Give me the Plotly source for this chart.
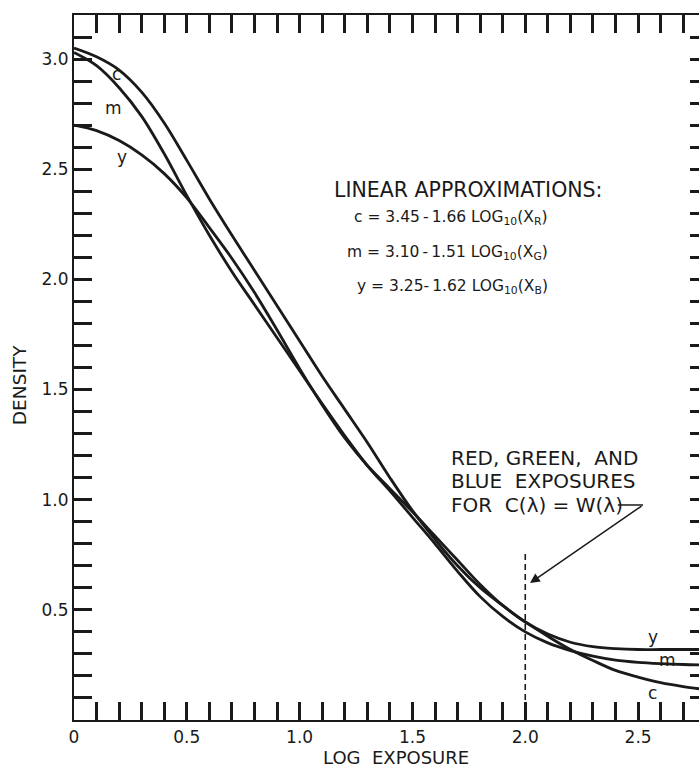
import plotly.graph_objects as go

# ---- data ----
log_exposure = [0.0, 0.1, 0.2, 0.3, 0.4, 0.5, 0.6, 0.7, 0.8, 0.9,
                1.0, 1.1, 1.2, 1.3, 1.4, 1.5, 1.6, 1.7, 1.8, 1.9,
                2.0, 2.1, 2.2, 2.3, 2.4, 2.5, 2.6, 2.7, 2.8]
density_c = [3.05, 3.01, 2.95, 2.85, 2.71, 2.54, 2.365, 2.20, 2.04, 1.88,
             1.72, 1.56, 1.41, 1.26, 1.10, 0.95, 0.82, 0.70, 0.60, 0.52,
             0.445, 0.38, 0.32, 0.27, 0.225, 0.195, 0.17, 0.152, 0.138]
density_m = [3.03, 2.97, 2.87, 2.74, 2.57, 2.38, 2.20, 2.035, 1.885, 1.735,
             1.585, 1.435, 1.29, 1.155, 1.04, 0.92, 0.80, 0.675, 0.56, 0.47,
             0.40, 0.35, 0.315, 0.29, 0.272, 0.262, 0.256, 0.252, 0.25]
density_y = [2.70, 2.675, 2.63, 2.565, 2.48, 2.37, 2.235, 2.095, 1.94, 1.77,
             1.595, 1.43, 1.28, 1.155, 1.05, 0.945, 0.835, 0.725, 0.615, 0.52,
             0.445, 0.39, 0.353, 0.333, 0.324, 0.32, 0.32, 0.32, 0.32]
series_names = ["c", "m", "y"]

x_tick_values = [0, 0.5, 1.0, 1.5, 2.0, 2.5]
x_tick_labels = ["0", "0.5", "1.0", "1.5", "2.0", "2.5"]
y_tick_values = [0.5, 1.0, 1.5, 2.0, 2.5, 3.0]
y_tick_labels = ["0.5", "1.0", "1.5", "2.0", "2.5", "3.0"]

reference_exposure = 2.0
reference_line_top = 0.77

formula_lines = [
    "c = 3.45\u2009-\u20091.66 LOG<sub>10</sub>(X<sub>R</sub>)",
    "m = 3.10\u2009-\u20091.51 LOG<sub>10</sub>(X<sub>G</sub>)",
    "y = 3.25-\u20091.62 LOG<sub>10</sub>(X<sub>B</sub>)",
]
note_lines = ["RED, GREEN,  AND", "BLUE  EXPOSURES", "FOR  C(\u03bb) = W(\u03bb)"]

FONT = "DejaVu Sans"
INK = "#1a1a1a"

fig = go.Figure()
for name, vals in zip(series_names, [density_c, density_m, density_y]):
    fig.add_trace(go.Scatter(
        x=log_exposure, y=vals, mode="lines", name=name,
        line=dict(color=INK, width=2.8, shape="spline", smoothing=1.0),
        showlegend=False, hoverinfo="skip"))

# invisible trace for the right-hand tick axis
fig.add_trace(go.Scatter(x=[None], y=[None], yaxis="y2", showlegend=False))

# dashed reference line at log exposure 2.0
fig.add_shape(type="line", xref="x", yref="y",
              x0=reference_exposure, x1=reference_exposure,
              y0=0, y1=reference_line_top,
              line=dict(color=INK, width=1.6, dash="6px,4px"))

# leader line of the exposure note
fig.add_shape(type="line", xref="x", yref="y",
              x0=2.41, x1=2.522, y0=0.976, y1=0.976,
              line=dict(color=INK, width=1.5))
fig.add_annotation(x=2.021, y=0.622, ax=2.522, ay=0.976,
                   axref="x", ayref="y", xref="x", yref="y",
                   text="", showarrow=True, arrowhead=2, arrowsize=1.3,
                   arrowwidth=1.5, arrowcolor=INK)

# curve labels
label_font = dict(family=FONT, size=17, color=INK)
for txt, x, y in [("c", 0.19, 2.93), ("m", 0.173, 2.78), ("y", 0.214, 2.556),
                  ("y", 2.566, 0.377), ("m", 2.63, 0.272), ("c", 2.566, 0.123)]:
    fig.add_annotation(x=x, y=y, text=txt, showarrow=False, font=label_font,
                       xanchor="center", yanchor="middle")

# linear approximations block
fig.add_annotation(x=1.144, y=2.406, text="LINEAR APPROXIMATIONS:",
                   showarrow=False, xanchor="left", yanchor="middle",
                   font=dict(family=FONT, size=20.5, color=INK))
for txt, y in zip(formula_lines, [2.279, 2.120, 1.966]):
    fig.add_annotation(x=2.110, y=y, text=txt, showarrow=False,
                       xanchor="right", yanchor="middle",
                       font=dict(family=FONT, size=15.5, color=INK))

# exposure note
for txt, y in zip(note_lines, [1.189, 1.087, 0.976]):
    fig.add_annotation(x=1.662, y=y, text=txt, showarrow=False,
                       xanchor="left", yanchor="middle",
                       font=dict(family=FONT, size=20, color=INK))

# axis titles
fig.add_annotation(x=1.427, y=-0.0525, xref="x", yref="paper",
                   text="LOG  EXPOSURE", showarrow=False,
                   xanchor="center", yanchor="middle",
                   font=dict(family=FONT, size=18, color=INK))
fig.add_annotation(x=-0.088, y=1.52, xref="paper", yref="y",
                   text="DENSITY", textangle=-90, showarrow=False,
                   xanchor="center", yanchor="middle",
                   font=dict(family=FONT, size=18.5, color=INK))

tick_font = dict(family=FONT, size=17, color=INK)
fig.update_layout(
    width=699, height=767,
    margin=dict(l=74, r=0, t=15, b=47, autoexpand=False),
    paper_bgcolor="white", plot_bgcolor="white",
    xaxis=dict(range=[0, 2.77], tickmode="array", tickvals=x_tick_values,
               ticktext=x_tick_labels, ticks="inside", ticklen=18, tickwidth=2.5,
               tickcolor=INK, showline=True, linecolor=INK, linewidth=2.2,
               mirror="ticks", showgrid=False, zeroline=False, tickfont=tick_font,
               automargin=False,
               minor=dict(dtick=0.1, tick0=0, ticks="inside", ticklen=18,
                          tickwidth=2.5, tickcolor=INK, showgrid=False)),
    yaxis=dict(range=[0, 3.2], tickmode="array", tickvals=y_tick_values,
               ticktext=y_tick_labels, ticks="inside", ticklen=18, tickwidth=2.5,
               tickcolor=INK, showline=True, linecolor=INK, linewidth=2.2,
               mirror=False, showgrid=False, zeroline=False, tickfont=tick_font,
               automargin=False,
               minor=dict(dtick=0.1, tick0=0, ticks="inside", ticklen=18,
                          tickwidth=2.5, tickcolor=INK, showgrid=False)),
    yaxis2=dict(range=[0, 3.2], overlaying="y", side="right", anchor="x",
                tickmode="linear", tick0=0, dtick=0.1, ticks="inside", ticklen=9,
                tickwidth=2.5, tickcolor=INK, showticklabels=False,
                showline=False, showgrid=False, zeroline=False, automargin=False),
)

# remove the default page margin so the 699x767 figure fills the window exactly
fig.write_html("out.html",
               config={"displayModeBar": False},
               post_script="document.body.style.margin='0';"
                           "document.body.style.overflow='hidden';")
